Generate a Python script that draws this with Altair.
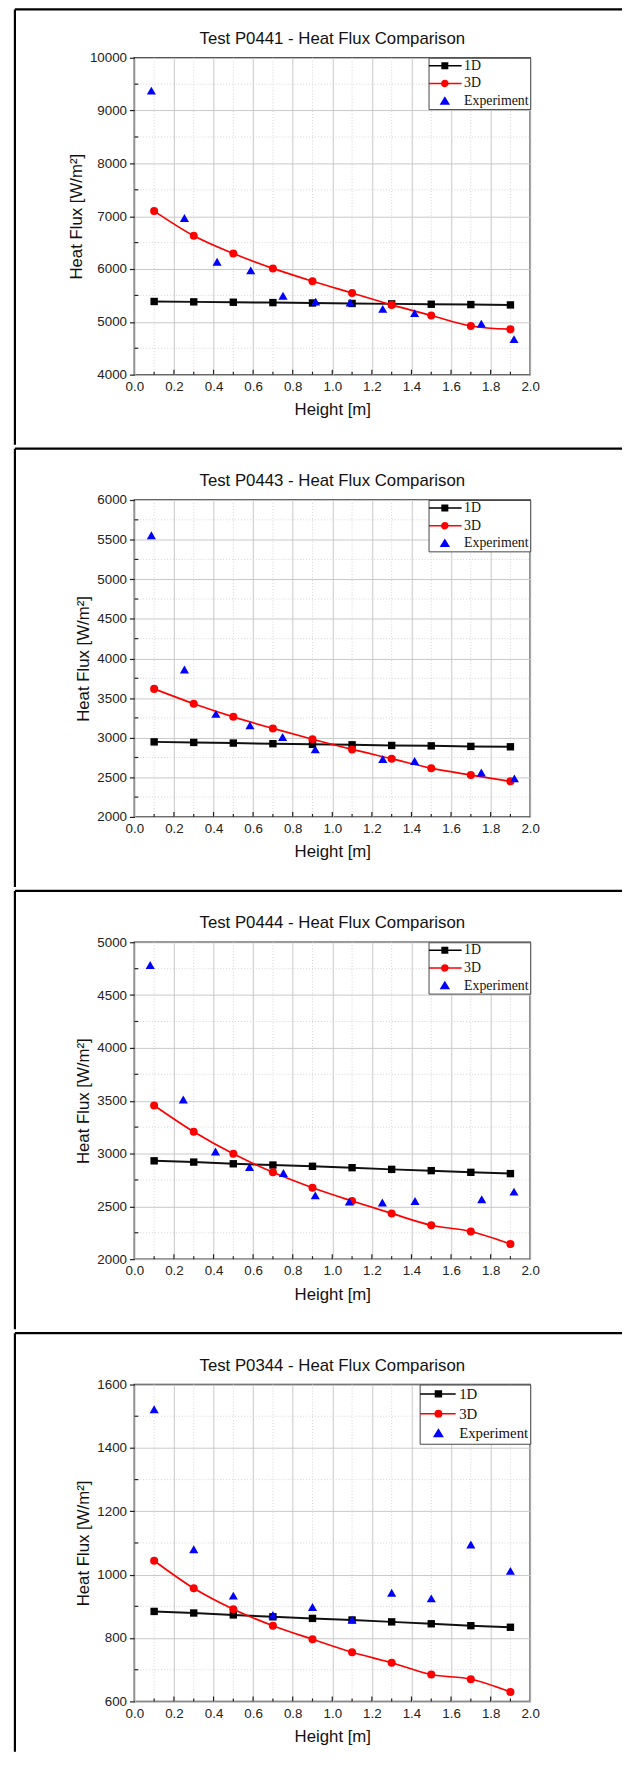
import altair as alt
import pandas as pd

# ---------------- data ----------------
X_MODEL = [0.1, 0.3, 0.5, 0.7, 0.9, 1.1, 1.3, 1.5, 1.7, 1.9]
SERIES = ["1D", "3D", "Experiment"]
SERIES_COLORS = ["#000000", "#ff0000", "#0000ff"]

TITLES = [
    "Test P0441 - Heat Flux Comparison",
    "Test P0443 - Heat Flux Comparison",
    "Test P0444 - Heat Flux Comparison",
    "Test P0344 - Heat Flux Comparison",
]
X_TITLE = "Height [m]"
Y_TITLE = "Heat Flux [W/m²]"

X_TICKS = [0.0, 0.2, 0.4, 0.6, 0.8, 1.0, 1.2, 1.4, 1.6, 1.8, 2.0]
X_MINOR = [0.1, 0.3, 0.5, 0.7, 0.9, 1.1, 1.3, 1.5, 1.7, 1.9]

# P0441
P0441_1D = [5385, 5378, 5371, 5364, 5357, 5348, 5340, 5333, 5327, 5320]
P0441_3D = [7097, 6629, 6293, 6012, 5769, 5545, 5321, 5121, 4922, 4860]
P0441_EXP_X = [0.086, 0.253, 0.418, 0.588, 0.751, 0.916, 1.090, 1.255, 1.416, 1.753, 1.918]
P0441_EXP_Y = [9377, 6966, 6137, 5975, 5495, 5383, 5364, 5246, 5165, 4966, 4673]
P0441_Y_TICKS = [4000, 5000, 6000, 7000, 8000, 9000, 10000]
P0441_Y_MINOR = [4500, 5500, 6500, 7500, 8500, 9500]

# P0443
P0443_1D = [2947, 2940, 2932, 2924, 2916, 2910, 2902, 2897, 2890, 2885]
P0443_3D = [3616, 3429, 3263, 3117, 2980, 2852, 2735, 2615, 2528, 2449]
P0443_EXP_X = [0.086, 0.253, 0.412, 0.584, 0.749, 0.914, 1.255, 1.416, 1.753, 1.920]
P0443_EXP_Y = [5556, 3861, 3300, 3155, 3009, 2852, 2731, 2706, 2561, 2486]
P0443_Y_TICKS = [2000, 2500, 3000, 3500, 4000, 4500, 5000, 5500, 6000]
P0443_Y_MINOR = [2250, 2750, 3250, 3750, 4250, 4750, 5250, 5750]

# P0444
P0444_1D = [2931, 2919, 2903, 2891, 2879, 2866, 2850, 2838, 2822, 2810]
P0444_3D = [3455, 3206, 2997, 2822, 2676, 2551, 2433, 2321, 2262, 2143]
P0444_EXP_X = [0.080, 0.247, 0.410, 0.582, 0.753, 0.914, 1.086, 1.253, 1.418, 1.755, 1.918]
P0444_EXP_Y = [4785, 3511, 3019, 2872, 2816, 2604, 2545, 2536, 2551, 2567, 2639]
P0444_Y_TICKS = [2000, 2500, 3000, 3500, 4000, 4500, 5000]
P0444_Y_MINOR = [2250, 2750, 3250, 3750, 4250, 4750]

# P0344
P0344_1D = [884, 879, 873, 867, 862, 857, 851, 845, 839, 834]
P0344_3D = [1044, 957, 891, 839, 796, 755, 722, 685, 670, 630]
P0344_EXP_X = [0.1, 0.3, 0.5, 0.7, 0.9, 1.1, 1.3, 1.5, 1.7, 1.9]
P0344_EXP_Y = [1522, 1080, 934, 873, 898, 858, 943, 925, 1095, 1012]
P0344_Y_TICKS = [600, 800, 1000, 1200, 1400, 1600]
P0344_Y_MINOR = [700, 900, 1100, 1300, 1500]

PANELS = [
    (TITLES[0], P0441_1D, P0441_3D, P0441_EXP_X, P0441_EXP_Y, P0441_Y_TICKS, P0441_Y_MINOR),
    (TITLES[1], P0443_1D, P0443_3D, P0443_EXP_X, P0443_EXP_Y, P0443_Y_TICKS, P0443_Y_MINOR),
    (TITLES[2], P0444_1D, P0444_3D, P0444_EXP_X, P0444_EXP_Y, P0444_Y_TICKS, P0444_Y_MINOR),
    (TITLES[3], P0344_1D, P0344_3D, P0344_EXP_X, P0344_EXP_Y, P0344_Y_TICKS, P0344_Y_MINOR),
]

# ---------------- styling ----------------
W, H = 401, 321
FONT = "Liberation Sans"
SERIF = "Liberation Serif"
FRAME_X = -121
FRAME_TOPS = [-49, -52, -52, -52]
FRAME_BOTTOMS = [392, 392, 392, 372]
FRAME_RIGHT = 494
TITLE_OFFSETS = [-40, -43, -43, -43]


def f(v):
    return f"{v:.3f}"


def legend_paths(x0, x1, cx, m):
    """Legend glyphs in symbol units: line from x0 to x1, marker at cx.
    A zero-length ghost segment mirrors the extent so the glyph box stays centred on 0."""
    ext = max(abs(x0), abs(x1))
    ghost = f"M{f(-ext)},0L{f(-ext)},0"
    sq = ghost + f"M{f(x0)},0H{f(x1)}M{f(cx - m)},{f(-m)}H{f(cx + m)}V{f(m)}H{f(cx - m)}Z"
    r = m * 1.08
    ci = ghost + (f"M{f(x0)},0H{f(cx - r)}M{f(cx + r)},0H{f(x1)}"
                  f"M{f(cx + r)},0A{f(r)},{f(r)},0,1,1,{f(cx - r)},0"
                  f"A{f(r)},{f(r)},0,1,1,{f(cx + r)},0Z")
    hw = m * 1.4
    tri = ghost + f"M{f(x1)},0L{f(x1)},0" + \
        f"M{f(cx)},{f(-hw * 0.9)}L{f(cx + hw)},{f(hw * 0.75)}H{f(cx - hw)}Z"
    return [sq, ci, tri]


LEGEND_CFG = [
    dict(x0=-1.5, x1=5.1, cx=1.7, m=0.56, font=14, row=4, loff=21, pad=1),
    dict(x0=-1.5, x1=5.1, cx=1.7, m=0.56, font=14, row=4, loff=21, pad=1),
    dict(x0=-1.5, x1=5.1, cx=1.7, m=0.56, font=14, row=4, loff=21, pad=1),
    dict(x0=-1.8, x1=5.4, cx=1.9, m=0.6, font=15, row=4, loff=23, pad=2),
]


def xenc():
    return alt.X(
        "x:Q",
        scale=alt.Scale(domain=[0, 2], nice=False, zero=False),
        axis=alt.Axis(values=X_TICKS, format=".1f", title=X_TITLE, ticks=False,
                      labelPadding=5, titlePadding=9, grid=True,
                      labelOverlap=False, labelFlush=False),
    )


def yenc(yticks):
    return alt.Y(
        "y:Q",
        scale=alt.Scale(domain=[yticks[0], yticks[-1]], nice=False, zero=False),
        axis=alt.Axis(values=yticks, format="d", title=Y_TITLE, tickSize=5,
                      labelPadding=3, titlePadding=4, grid=True,
                      labelOverlap=False, labelFlush=False),
    )


def make_panel(idx):
    title, y1d, y3d, ex, ey, yticks, yminor = PANELS[idx]
    lc = LEGEND_CFG[idx]
    df1 = pd.DataFrame({"x": X_MODEL, "y": y1d})
    df3 = pd.DataFrame({"x": X_MODEL, "y": y3d})
    dfe = pd.DataFrame({"x": ex, "y": ey})
    dfxm = pd.DataFrame({"x": X_MINOR})
    dfxM = pd.DataFrame({"x": X_TICKS[1:-1]})
    dfym = pd.DataFrame({"y": yminor})
    dfleg = pd.DataFrame({"x": [None] * 3, "y": [None] * 3, "s": SERIES})
    dummy = pd.DataFrame({"k": [0]})

    X = xenc()
    Y = yenc(yticks)

    vgrid = alt.Chart(dfxm).mark_rule(color="#d4d4d4", strokeWidth=1, strokeDash=[1, 2]).encode(
        x=X, y=alt.value(0), y2=alt.value(H))
    hgrid = alt.Chart(dfym).mark_rule(color="#d4d4d4", strokeWidth=1, strokeDash=[1, 2]).encode(
        y=Y, x=alt.value(0), x2=alt.value(W))

    line1 = alt.Chart(df1).mark_line(color="#111111", strokeWidth=2).encode(x=X, y=Y)
    pts1 = alt.Chart(df1).mark_point(shape="square", filled=True, size=56, color="#000000",
                                     opacity=1).encode(x=X, y=Y)
    line3 = alt.Chart(df3).mark_line(color="#ff0000", strokeWidth=1.7,
                                     interpolate="monotone").encode(x=X, y=Y)
    pts3 = alt.Chart(df3).mark_point(shape="circle", filled=True, size=66, color="#ff0000",
                                     opacity=1).encode(x=X, y=Y)
    ptse = alt.Chart(dfe).mark_point(shape="triangle-up", filled=True, size=85, color="#0000ff",
                                     opacity=1).encode(x=X, y=Y)

    xtM = alt.Chart(dfxM).mark_rule(color="#222222", strokeWidth=1.2).encode(
        x=X, y=alt.value(H), y2=alt.value(H - 5))
    xtm = alt.Chart(dfxm).mark_rule(color="#222222", strokeWidth=1.2).encode(
        x=X, y=alt.value(H), y2=alt.value(H - 3))
    ytm = alt.Chart(dfym).mark_rule(color="#222222", strokeWidth=1.2).encode(
        y=Y, x=alt.value(0), x2=alt.value(4))

    leg = alt.Legend(title=None, orient="top-right", offset=0, padding=lc["pad"],
                     fillColor="white", strokeColor="#444444",
                     symbolSize=100, symbolOffset=0, labelOffset=lc["loff"],
                     symbolStrokeWidth=1.5, symbolOpacity=1,
                     labelFont=SERIF, labelFontSize=lc["font"], labelColor="#111111",
                     rowPadding=lc["row"])
    paths = legend_paths(lc["x0"], lc["x1"], lc["cx"], lc["m"])
    legend_layer = alt.Chart(dfleg).mark_point(filled=True, size=100, opacity=1,
                                               strokeWidth=1.5).encode(
        x=X, y=Y,
        color=alt.Color("s:N", scale=alt.Scale(domain=SERIES, range=SERIES_COLORS), legend=leg),
        stroke=alt.Stroke("s:N", scale=alt.Scale(domain=SERIES, range=SERIES_COLORS), legend=leg),
        shape=alt.Shape("s:N", scale=alt.Scale(domain=SERIES, range=paths), legend=leg),
    )

    top = FRAME_TOPS[idx]
    bottom = FRAME_BOTTOMS[idx]
    top_rule = alt.Chart(dummy).mark_rule(color="black", strokeWidth=2.2).encode(
        x=alt.value(FRAME_X), x2=alt.value(FRAME_RIGHT), y=alt.value(top))
    left_rule = alt.Chart(dummy).mark_rule(color="black", strokeWidth=2.2).encode(
        x=alt.value(FRAME_X), y=alt.value(top), y2=alt.value(bottom))

    return alt.layer(
        vgrid, hgrid, line1, pts1, line3, pts3, ptse, xtM, xtm, ytm, legend_layer,
        top_rule, left_rule,
    ).properties(
        width=W, height=H,
        title=alt.TitleParams(text=title, fontSize=17, font=FONT, fontWeight="normal",
                              color="#111111", offset=TITLE_OFFSETS[idx], anchor="middle",
                              frame="group"),
    )


chart = alt.vconcat(*[make_panel(i) for i in range(4)], spacing=0).resolve_scale(
    x="independent", y="independent", color="independent",
    stroke="independent", shape="independent",
).configure(
    padding={"left": 5, "top": -12, "right": 0, "bottom": 0},
    font=FONT,
    background="white",
).configure_view(
    stroke="#333333", strokeWidth=1.5,
).configure_axis(
    labelFont=FONT, labelFontSize=13.5, labelColor="#222222",
    titleFont=FONT, titleFontSize=17, titleFontWeight="normal", titleColor="#111111",
    gridColor="#c8c8c8", gridWidth=1, domain=False,
    tickColor="#222222", tickWidth=1.2,
)

chart.save("out.html", embed_options={"renderer": "svg", "actions": False})
